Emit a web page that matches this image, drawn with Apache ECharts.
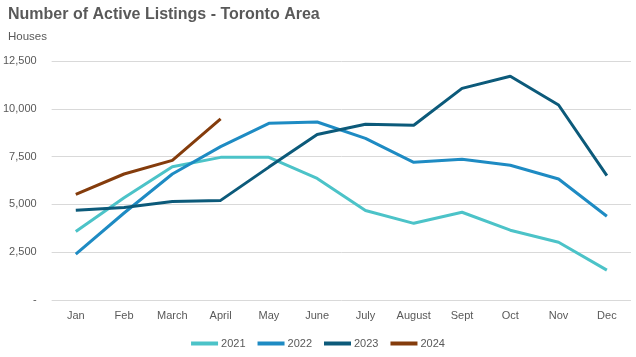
<!DOCTYPE html>
<html><head><meta charset="utf-8">
<script src="https://cdn.jsdelivr.net/npm/echarts@6/dist/echarts.min.js"></script>
<style>html,body{margin:0;padding:0;background:#fff}#c{width:636px;height:357px}</style>
</head><body><div id="c"></div>
<script>
const categories = ['Jan','Feb','March','April','May','June','July','August','Sept','Oct','Nov','Dec'];
const s2021 = [3580, 5350, 6970, 7460, 7460, 6360, 4680, 4010, 4590, 3650, 3020, 1560];
const s2022 = [2400, 4550, 6590, 8020, 9240, 9310, 8450, 7200, 7360, 7050, 6330, 4380];
const s2023 = [4690, 4840, 5150, 5210, 6950, 8660, 9190, 9140, 11070, 11700, 10200, 6500];
const s2024 = [5530, 6590, 7300, 9470];
const seriesNames = ['2021','2022','2023','2024'];
const colors = ['#4cc3c8','#1e8bc3','#0c5a7a','#843c0c'];
const yTicks = {min:0, max:12500, interval:2500};

const chart = echarts.init(document.getElementById('c'));
const data = [s2021, s2022, s2023, s2024];
chart.setOption({
  animation:false,
  title:[
    {text:'Number of Active Listings - Toronto Area', left:3, top:2,
     textStyle:{fontFamily:'Liberation Sans, Arial', fontSize:16, fontWeight:'bold', color:'#595959'}},
    {text:'Houses', left:3, top:26,
     textStyle:{fontFamily:'Liberation Sans, Arial', fontSize:11.5, fontWeight:'normal', color:'#595959'}}
  ],
  grid:{left:51, right:5, top:61, bottom:57},
  legend:{bottom:3, left:'center', itemWidth:27, itemHeight:4, itemGap:12, icon:'rect',
    textStyle:{fontFamily:'Liberation Sans, Arial', fontSize:11, color:'#595959', padding:[0,0,0,-2]},
    data:seriesNames},
  xAxis:{type:'category', data:categories, boundaryGap:true,
    axisLine:{show:false}, axisTick:{show:false},
    axisLabel:{color:'#595959', fontSize:11, fontFamily:'Liberation Sans, Arial', margin:10, interval:0}},
  yAxis:{type:'value', min:yTicks.min, max:yTicks.max, interval:yTicks.interval,
    axisLine:{show:false}, axisTick:{show:false},
    splitLine:{lineStyle:{color:'#d9d9d9', width:1}},
    axisLabel:{color:'#595959', fontSize:11, fontFamily:'Liberation Sans, Arial', margin:15,
      formatter:v=> v===0 ? '-' : v.toLocaleString('en-US')}},
  series: seriesNames.map((n,i)=>({
    name:n, type:'line', data:data[i], symbol:'none', color:colors[i],
    lineStyle:{width:3, color:colors[i]}
  }))
});
</script></body></html>
